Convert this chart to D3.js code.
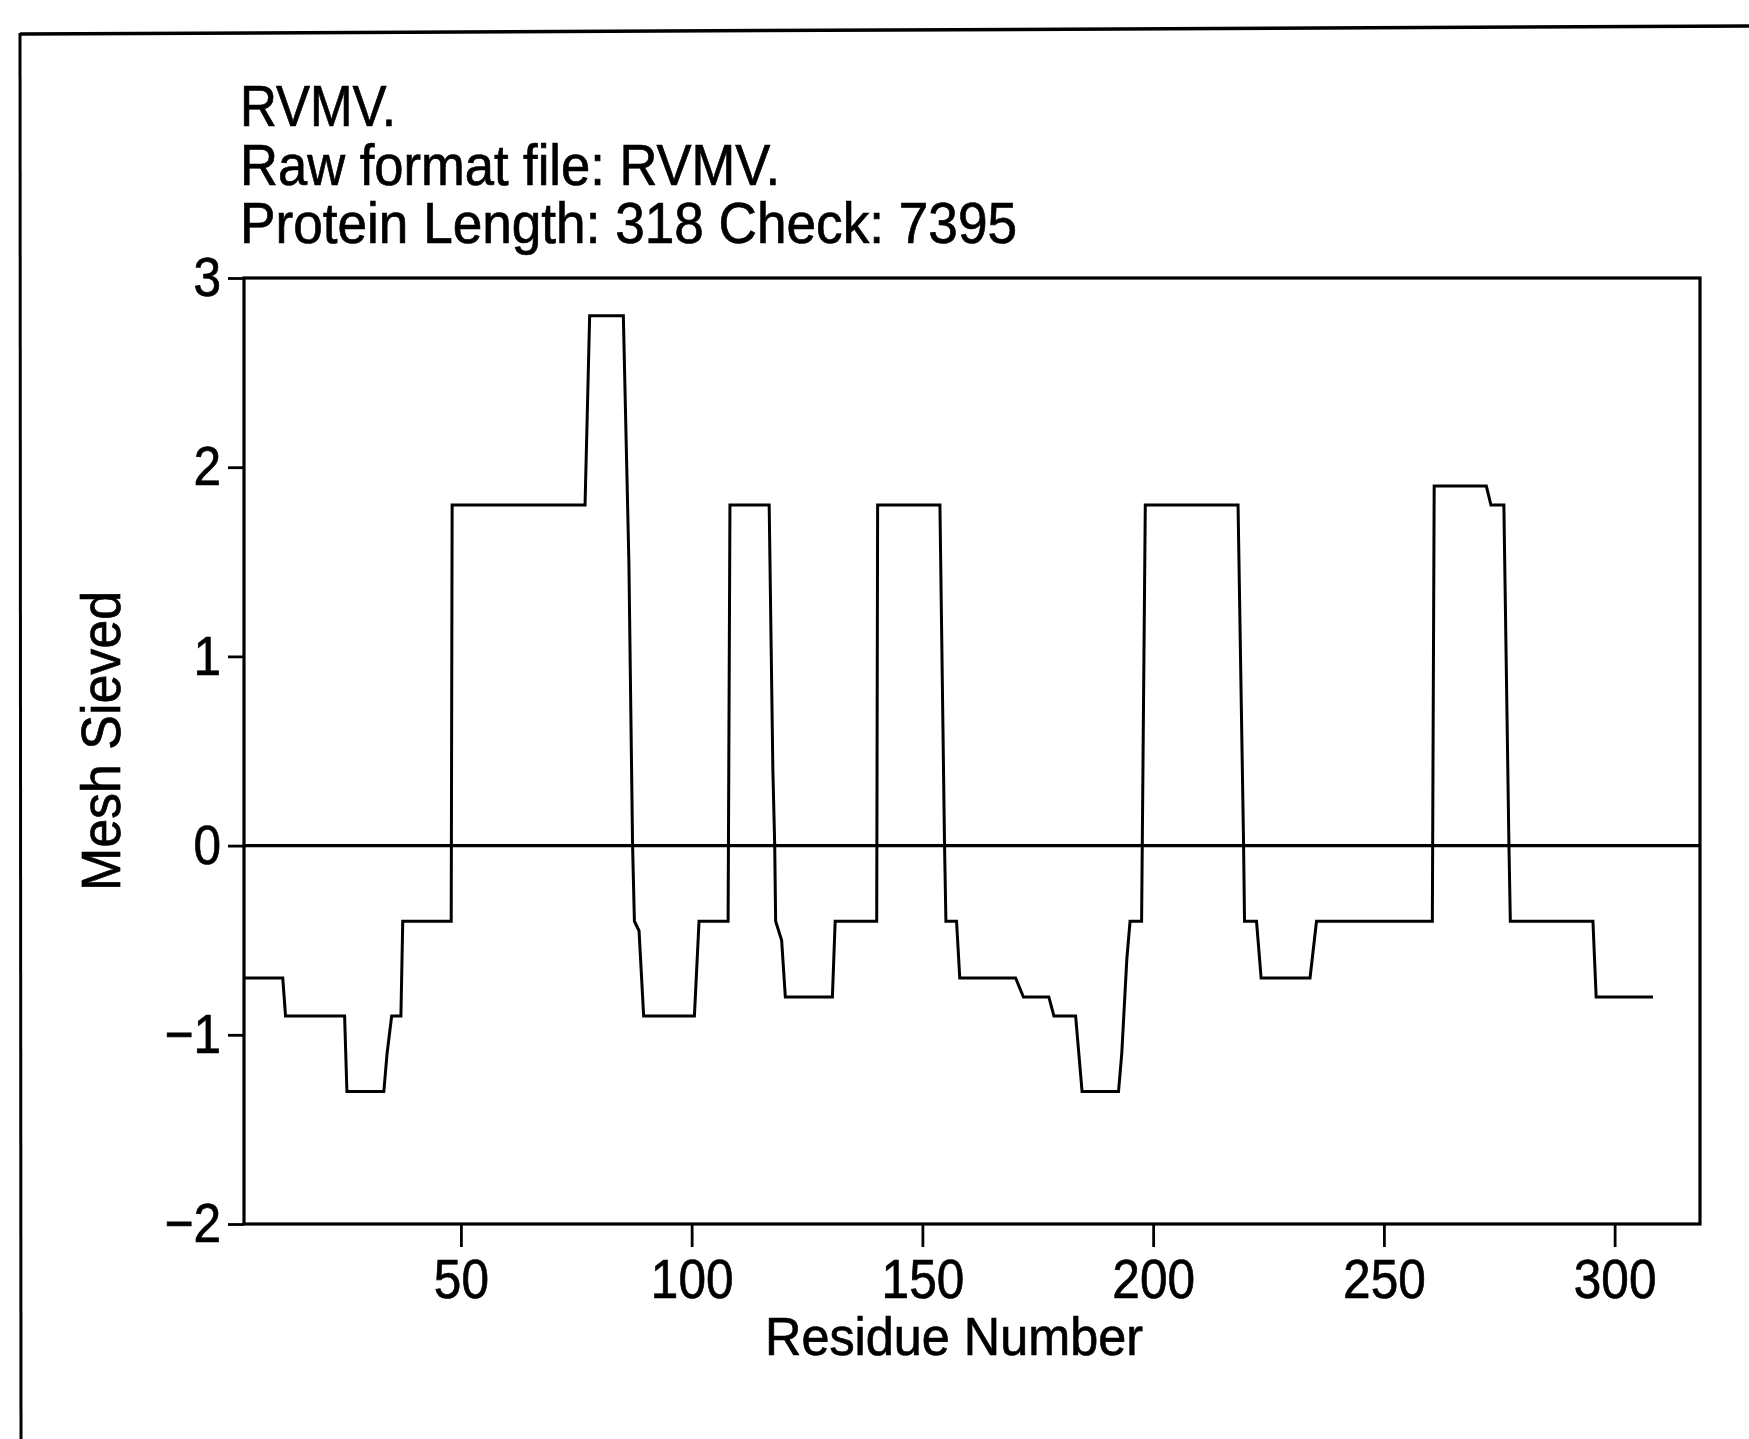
<!DOCTYPE html>
<html>
<head>
<meta charset="utf-8">
<script src="https://cdn.jsdelivr.net/npm/d3@7"></script>
<style>
  html, body { margin: 0; padding: 0; background: #fff; }
  svg { display: block; }
  text { font-family: "Liberation Sans", Arial, Helvetica, sans-serif; fill: #000; stroke: #000; stroke-width: 0.7px; }
</style>
</head>
<body>
<svg id="chart" width="1749" height="1439"></svg>
<script>
// ---- Data ----
const titleLines = ["RVMV.", "Raw format file: RVMV.", "Protein Length: 318 Check: 7395"];
const xLabel = "Residue Number";
const yLabel = "Mesh Sieved";
const xTicks = [50, 100, 150, 200, 250, 300];
const yTicks = [3, 2, 1, 0, -1, -2];
const xDomain = [3, 318.5];
const yDomain = [-2, 3];

// vertices of the profile polyline: residue number and Mesh Sieved value
const residues = [
  3, 11.4, 12, 24.8, 25.3, 33.3, 34, 35, 37, 37.4,
  47.9, 48.1, 76.9, 77.4, 77.9, 85.2, 86.4, 87.2, 87.6, 88.6,
  89.6, 100.6, 101.6, 107.9, 108.3, 116.8, 117.6, 118, 118.2, 119.5,
  120.3, 130.5, 131.1, 140.1, 140.3, 153.8, 154.8, 155.1, 157.4, 158.1,
  170.2, 171.9, 177.4, 178.5, 183.2, 184.6, 192.5, 193.2, 194.3, 195,
  197.5, 198.3, 218.4, 219.6, 219.8, 222.4, 223.4, 234, 235.4, 260.5,
  260.9, 272.2, 273.2, 276, 277.1, 277.4, 295.3, 296, 308.3
];
const values = [
  -0.7, -0.7, -0.9, -0.9, -1.3, -1.3, -1.1, -0.9, -0.9, -0.4,
  -0.4, 1.8, 1.8, 2.3, 2.8, 2.8, 1.5, 0, -0.4, -0.45,
  -0.9, -0.9, -0.4, -0.4, 1.8, 1.8, 0.4, 0, -0.4, -0.5,
  -0.8, -0.8, -0.4, -0.4, 1.8, 1.8, 0, -0.4, -0.4, -0.7,
  -0.7, -0.8, -0.8, -0.9, -0.9, -1.3, -1.3, -1.1, -0.6, -0.4,
  -0.4, 1.8, 1.8, 0, -0.4, -0.4, -0.7, -0.7, -0.4, -0.4,
  1.9, 1.9, 1.8, 1.8, 0, -0.4, -0.4, -0.8, -0.8
];

// ---- Layout ----
const plot = { left: 244, right: 1700, top: 278, bottom: 1224 };
const svg = d3.select("#chart");

const x = d3.scaleLinear().domain(xDomain).range([plot.left, plot.right]);
const y = d3.scaleLinear().domain(yDomain).range([plot.bottom, plot.top]);

function condense(sel, f) {
  sel.each(function () {
    const w = this.getComputedTextLength();
    this.setAttribute("textLength", w * f);
    this.setAttribute("lengthAdjust", "spacingAndGlyphs");
  });
}

// outer page frame (top and left edges)
svg.append("line").attr("x1", 20).attr("y1", 34).attr("x2", 1749).attr("y2", 26)
  .attr("stroke", "#000").attr("stroke-width", 3.5);
svg.append("line").attr("x1", 20).attr("y1", 33).attr("x2", 21).attr("y2", 1439)
  .attr("stroke", "#000").attr("stroke-width", 3);

// title lines
const titleBase = [126, 185, 243];
const titleWidth = [156, 540, 777];
titleLines.forEach((t, i) => {
  svg.append("text")
    .attr("x", 240).attr("y", titleBase[i])
    .attr("font-size", 57)
    .attr("textLength", titleWidth[i])
    .attr("lengthAdjust", "spacingAndGlyphs")
    .text(t);
});

// axes
const yAxis = d3.axisLeft(y).tickValues(yTicks).tickSize(16).tickPadding(7)
  .tickFormat(d => d < 0 ? "\u2212" + Math.abs(d) : String(d));
const gy = svg.append("g").attr("transform", `translate(${plot.left},0)`).call(yAxis);
gy.select(".domain").remove();
gy.selectAll(".tick line").attr("stroke", "#000").attr("stroke-width", 2.8);
gy.selectAll(".tick text").attr("font-size", 55)
  .style("font-family", '"Liberation Sans", Arial, Helvetica, sans-serif')
  .attr("fill", "#000").call(condense, 0.9);

const xAxis = d3.axisBottom(x).tickValues(xTicks).tickSize(23).tickPadding(12)
  .tickFormat(d3.format("d"));
const gx = svg.append("g").attr("transform", `translate(0,${plot.bottom})`).call(xAxis);
gx.select(".domain").remove();
gx.selectAll(".tick line").attr("stroke", "#000").attr("stroke-width", 2.8);
gx.selectAll(".tick text").attr("font-size", 55)
  .style("font-family", '"Liberation Sans", Arial, Helvetica, sans-serif')
  .attr("fill", "#000").call(condense, 0.9);

// plot frame
svg.append("rect")
  .attr("x", plot.left).attr("y", plot.top)
  .attr("width", plot.right - plot.left).attr("height", plot.bottom - plot.top)
  .attr("fill", "none").attr("stroke", "#000").attr("stroke-width", 3.2);

// zero line
svg.append("line")
  .attr("x1", plot.left).attr("x2", plot.right)
  .attr("y1", y(0)).attr("y2", y(0))
  .attr("stroke", "#000").attr("stroke-width", 3.2);

// profile
const pts = residues.map((r, i) => [r, values[i]]);
const line = d3.line().x(d => x(d[0])).y(d => y(d[1]));
svg.append("path")
  .attr("d", line(pts))
  .attr("fill", "none").attr("stroke", "#000").attr("stroke-width", 3)
  .attr("stroke-linejoin", "miter");

// axis titles
svg.append("text")
  .attr("x", 954).attr("y", 1355)
  .attr("text-anchor", "middle")
  .attr("font-size", 54)
  .attr("textLength", 378).attr("lengthAdjust", "spacingAndGlyphs")
  .text(xLabel);

svg.append("text")
  .attr("transform", "translate(120,741) rotate(-90)")
  .attr("text-anchor", "middle")
  .attr("font-size", 56)
  .attr("textLength", 300).attr("lengthAdjust", "spacingAndGlyphs")
  .text(yLabel);
</script>
</body>
</html>
